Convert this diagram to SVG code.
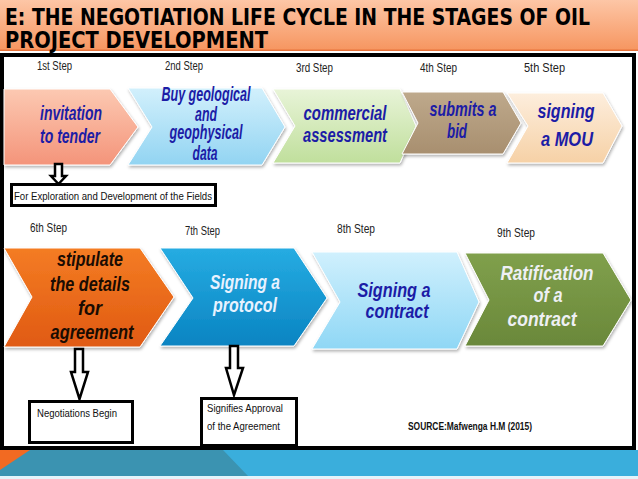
<svg xmlns="http://www.w3.org/2000/svg" width="638" height="479" viewBox="0 0 638 479">
<defs>
<linearGradient id="gTitle" x1="0" y1="0" x2="0" y2="1"><stop offset="0" stop-color="#fdc6a6"/><stop offset="1" stop-color="#f6955f"/></linearGradient>
<linearGradient id="g1" x1="0" y1="0" x2="0" y2="1"><stop offset="0" stop-color="#fcc9b2"/><stop offset="1" stop-color="#f4947a"/></linearGradient>
<linearGradient id="g2" x1="0" y1="0" x2="0" y2="1"><stop offset="0" stop-color="#d2f0fc"/><stop offset="1" stop-color="#92d4f2"/></linearGradient>
<linearGradient id="g3" x1="0" y1="0" x2="0" y2="1"><stop offset="0" stop-color="#e8f4d8"/><stop offset="1" stop-color="#c0df9c"/></linearGradient>
<linearGradient id="g4" x1="0" y1="0" x2="0" y2="1"><stop offset="0" stop-color="#bea98c"/><stop offset="1" stop-color="#a88f6f"/></linearGradient>
<linearGradient id="g5" x1="0" y1="0" x2="0" y2="1"><stop offset="0" stop-color="#fdeedd"/><stop offset="1" stop-color="#f6d1a6"/></linearGradient>
<linearGradient id="g6" x1="0" y1="0" x2="0" y2="1"><stop offset="0" stop-color="#f47c24"/><stop offset="1" stop-color="#e05a12"/></linearGradient>
<linearGradient id="g7" x1="0" y1="0" x2="0" y2="1"><stop offset="0" stop-color="#26ace2"/><stop offset="1" stop-color="#0a84c2"/></linearGradient>
<linearGradient id="g8" x1="0" y1="0" x2="0" y2="1"><stop offset="0" stop-color="#d0f0fd"/><stop offset="1" stop-color="#8fd7f5"/></linearGradient>
<linearGradient id="g9" x1="0" y1="0" x2="0" y2="1"><stop offset="0" stop-color="#80a04c"/><stop offset="1" stop-color="#6a883a"/></linearGradient>
<filter id="sh" x="-5%" y="-5%" width="115%" height="120%"><feDropShadow dx="1" dy="2" stdDeviation="1.5" flood-color="#000" flood-opacity="0.3"/></filter>
</defs>
<style>
.title{font-family:"DejaVu Sans Condensed","Liberation Sans Narrow","Liberation Sans",Arial,sans-serif;font-stretch:condensed;font-weight:bold;font-size:23px;fill:#000}
.step{font-family:"Liberation Sans Narrow","Liberation Sans",Arial,sans-serif;font-size:12px;fill:#222}
.ct{font-family:"Liberation Sans Narrow","Liberation Sans",Arial,sans-serif;font-weight:bold;font-style:italic;font-size:21px;text-anchor:middle}
.navy{fill:#1c1ca6}
.lbl{font-family:"Liberation Sans Narrow","Liberation Sans",Arial,sans-serif;font-size:11.5px;fill:#111}
.box{fill:#fff;stroke:#000;stroke-width:3}
.arr{fill:#fff;stroke:#000;stroke-width:2.5;stroke-linejoin:miter}
.chev{filter:url(#sh);stroke:#fff;stroke-width:1}
</style>
<rect x="0" y="0" width="638" height="479" fill="#fff"/>
<!-- title band -->
<rect x="0" y="0" width="638" height="51" fill="url(#gTitle)"/>
<rect x="0" y="49.5" width="638" height="1.5" fill="#e8743c"/>
<text class="title" x="5" y="25" textLength="585" lengthAdjust="spacingAndGlyphs">E: THE NEGOTIATION LIFE CYCLE IN THE STAGES OF OIL</text>
<text class="title" x="5" y="48" textLength="263" lengthAdjust="spacingAndGlyphs">PROJECT DEVELOPMENT</text>
<!-- bottom band -->
<rect x="0" y="450" width="638" height="26" fill="#3aaedc"/>
<rect x="0" y="476" width="638" height="3" fill="#e4f4fa"/>
<polygon points="0,450 223,450 248,476 0,476" fill="#3b93b1"/>
<polygon points="0,450 30,450 0,470" fill="#f26a22"/>
<!-- frame -->
<rect x="2" y="55" width="632" height="393" fill="#fff" stroke="#000" stroke-width="4"/>
<!-- step labels -->
<g id="step-labels">
<text class="step" x="37" y="70" textLength="35" lengthAdjust="spacingAndGlyphs">1st Step</text>
<text class="step" x="165" y="70" textLength="38" lengthAdjust="spacingAndGlyphs">2nd Step</text>
<text class="step" x="296" y="72" textLength="37" lengthAdjust="spacingAndGlyphs">3rd Step</text>
<text class="step" x="420" y="72" textLength="37" lengthAdjust="spacingAndGlyphs">4th Step</text>
<text class="step" x="524" y="72" textLength="41" lengthAdjust="spacingAndGlyphs">5th  Step</text>
<text class="step" x="30" y="232" textLength="37" lengthAdjust="spacingAndGlyphs">6th Step</text>
<text class="step" x="185" y="235" textLength="35" lengthAdjust="spacingAndGlyphs">7th Step</text>
<text class="step" x="337" y="233" textLength="38" lengthAdjust="spacingAndGlyphs">8th Step</text>
<text class="step" x="497" y="237" textLength="38" lengthAdjust="spacingAndGlyphs">9th Step</text>
</g>
<!-- row 1 -->
<g id="step1">
<polygon class="chev" points="4,89 110,89 138,127 110,165 4,165" fill="url(#g1)"/>
<text class="ct navy" x="71" y="120" textLength="62" lengthAdjust="spacingAndGlyphs">invitation</text>
<text class="ct navy" x="70" y="143" textLength="60" lengthAdjust="spacingAndGlyphs">to tender</text>
</g>
<g id="step2">
<polygon class="chev" points="128,88 262,88 285,127 262,165 128,165 152,127" fill="url(#g2)"/>
<text class="ct navy" x="206" y="101" font-size="17" textLength="89" lengthAdjust="spacingAndGlyphs">Buy geological</text>
<text class="ct navy" x="206" y="121" font-size="17" textLength="22" lengthAdjust="spacingAndGlyphs">and</text>
<text class="ct navy" x="206" y="139" font-size="17" textLength="73" lengthAdjust="spacingAndGlyphs">geophysical</text>
<text class="ct navy" x="205" y="160" font-size="17" textLength="25" lengthAdjust="spacingAndGlyphs">data</text>
</g>
<g id="step3">
<polygon class="chev" points="273,89 400,89 416,126 400,163 273,163 295,126" fill="url(#g3)"/>
<text class="ct navy" x="345" y="120" textLength="83" lengthAdjust="spacingAndGlyphs">commercial</text>
<text class="ct navy" x="345" y="142" textLength="84" lengthAdjust="spacingAndGlyphs">assessment</text>
</g>
<g id="step4">
<polygon class="chev" points="402,92 503,92 521,123 503,154 402,154 418,123" fill="url(#g4)"/>
<text class="ct navy" x="463" y="116" font-size="19" textLength="67" lengthAdjust="spacingAndGlyphs">submits a</text>
<text class="ct navy" x="457" y="138" font-size="19" textLength="20" lengthAdjust="spacingAndGlyphs">bid</text>
</g>
<g id="step5">
<polygon class="chev" points="507,93 603,93 622,126 603,163 507,163 528,126" fill="url(#g5)"/>
<text class="ct navy" x="566" y="118" textLength="57" lengthAdjust="spacingAndGlyphs">signing</text>
<text class="ct navy" x="567" y="146" textLength="52" lengthAdjust="spacingAndGlyphs">a MOU</text>
</g>
<!-- row 2 -->
<g id="step6">
<polygon class="chev" points="4,248 140,248 174,297 140,347 4,347 32,297" fill="url(#g6)"/>
<text class="ct" fill="#1a0c02" x="90" y="266" font-size="23" textLength="66" lengthAdjust="spacingAndGlyphs">stipulate</text>
<text class="ct" fill="#1a0c02" x="90" y="291" font-size="23" textLength="80" lengthAdjust="spacingAndGlyphs">the details</text>
<text class="ct" fill="#1a0c02" x="90" y="315" font-size="23" textLength="24" lengthAdjust="spacingAndGlyphs">for</text>
<text class="ct" fill="#1a0c02" x="92" y="339" font-size="23" textLength="83" lengthAdjust="spacingAndGlyphs">agreement</text>
</g>
<g id="step7">
<polygon class="chev" points="160,248 294,248 327,298 294,346 160,346 193,298" fill="url(#g7)"/>
<text class="ct" fill="#e8f2ff" x="245" y="289" font-size="22" textLength="70" lengthAdjust="spacingAndGlyphs">Signing a</text>
<text class="ct" fill="#e8f2ff" x="245" y="312" font-size="22" textLength="64" lengthAdjust="spacingAndGlyphs">protocol</text>
</g>
<g id="step8">
<polygon class="chev" points="312,252 457,252 479,302 457,349 312,349 340,302" fill="url(#g8)"/>
<text class="ct navy" x="394" y="297" font-size="22" textLength="73" lengthAdjust="spacingAndGlyphs">Signing a</text>
<text class="ct navy" x="397" y="318" font-size="22" textLength="63" lengthAdjust="spacingAndGlyphs">contract</text>
</g>
<g id="step9">
<polygon class="chev" points="465,253 603,253 631,300 603,346 465,346 489,300" fill="url(#g9)"/>
<text class="ct" fill="#eef0f4" x="547" y="280" font-size="22" textLength="93" lengthAdjust="spacingAndGlyphs">Ratification</text>
<text class="ct" fill="#eef0f4" x="548" y="302" font-size="22" textLength="29" lengthAdjust="spacingAndGlyphs">of a</text>
<text class="ct" fill="#eef0f4" x="542" y="326" font-size="22" textLength="69" lengthAdjust="spacingAndGlyphs">contract</text>
</g>
<!-- connectors -->
<g id="connectors">
<path class="arr" d="M55,164 H62 V176 H66 L58.5,184 L51,176 H55 Z"/>
<path class="arr" d="M75,349 H83 V372 H88 L79.5,399 L71,372 H75 Z"/>
<path class="arr" d="M230,346 H238 V368 H243 L234,395 L226,368 H230 Z"/>
</g>
<!-- note boxes -->
<g id="note-exploration">
<rect class="box" x="11.5" y="184.5" width="204" height="21"/>
<text class="lbl" x="14" y="200" textLength="198" lengthAdjust="spacingAndGlyphs">For Exploration and Development of the Fields</text>
</g>
<g id="note-negotiations">
<rect class="box" x="29.5" y="401.5" width="103" height="41"/>
<text class="lbl" x="37" y="417" textLength="80" lengthAdjust="spacingAndGlyphs">Negotiations Begin</text>
</g>
<g id="note-approval">
<rect class="box" x="201.5" y="398.5" width="95" height="47"/>
<text class="lbl" x="207" y="412" textLength="76" lengthAdjust="spacingAndGlyphs">Signifies Approval</text>
<text class="lbl" x="207" y="430" textLength="73" lengthAdjust="spacingAndGlyphs">of the Agreement</text>
</g>
<text x="408" y="430" font-family="'Liberation Sans Narrow','Liberation Sans',Arial,sans-serif" font-weight="bold" font-size="10.5" fill="#111" textLength="124" lengthAdjust="spacingAndGlyphs">SOURCE:Mafwenga H.M (2015)</text>
</svg>
